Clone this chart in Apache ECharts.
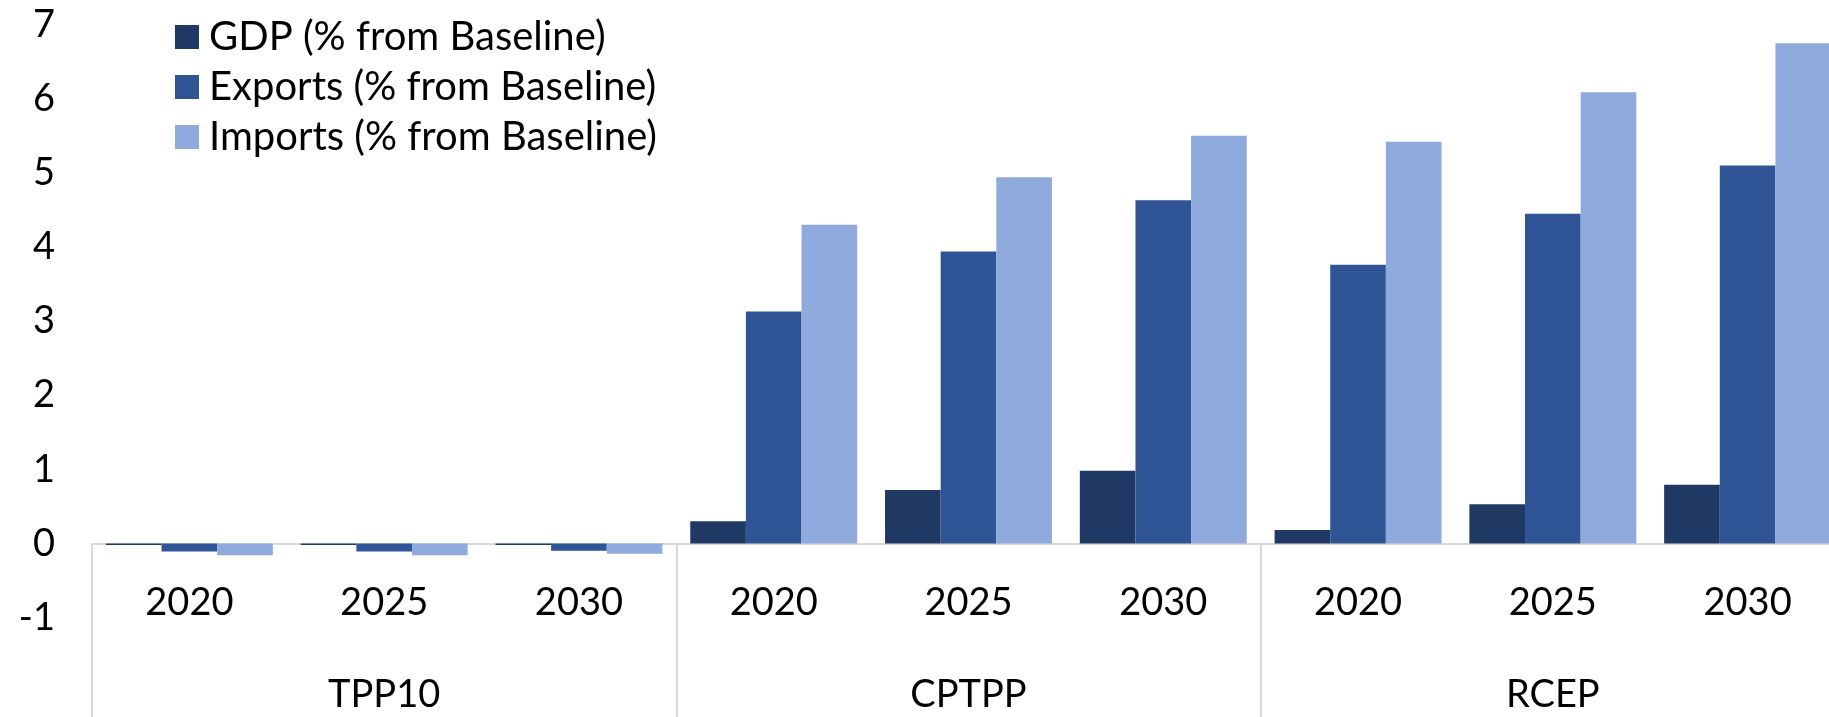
<!DOCTYPE html>
<html>
<head>
<meta charset="utf-8">
<script src="https://cdn.jsdelivr.net/npm/echarts@6/dist/echarts.min.js"></script>
<style>
  html, body { margin: 0; padding: 0; background: #ffffff; }
  #chart { width: 1829px; height: 717px; }
</style>
</head>
<body>
<div id="chart"></div>
<script>
// Trade agreement scenarios, each simulated for three years
const groups = ['TPP10', 'CPTPP', 'RCEP'];
const years = ['2020', '2025', '2030'];

// Percent change from baseline, in order TPP10 (2020, 2025, 2030), CPTPP (...), RCEP (...)
const gdp     = [-0.02, -0.02, -0.02, 0.30, 0.72, 0.98, 0.18, 0.53, 0.79];
const exports = [-0.11, -0.11, -0.10, 3.13, 3.94, 4.63, 3.76, 4.45, 5.10];
const imports = [-0.16, -0.16, -0.14, 4.30, 4.94, 5.50, 5.42, 6.09, 6.75];

const seriesNames = ['GDP (% from Baseline)', 'Exports (% from Baseline)', 'Imports (% from Baseline)'];
const colors = ['#203864', '#2F5597', '#8FAADC'];

// One category per (group, year) pair
const yearCategories = [];
groups.forEach(g => years.forEach(y => yearCategories.push(y)));

const FONT = 'Lato';
const FS = 38;

// Value range of the y axis; the category axes sit on the zero line
const Y_MIN = -1, Y_MAX = 7;
const GRID_TOP = 24.7, GRID_BOTTOM = 99.5, H = 717;
const plotH = H - GRID_TOP - GRID_BOTTOM;
const zeroShift = -plotH * (0 - Y_MIN) / (Y_MAX - Y_MIN);

const chart = echarts.init(document.getElementById('chart'), null, { renderer: 'canvas' });

chart.setOption({
  animation: false,
  color: colors,
  textStyle: { fontFamily: FONT },
  legend: {
    orient: 'vertical',
    left: 170,
    top: 12,
    itemWidth: 24,
    itemHeight: 24,
    itemGap: 10,
    icon: 'rect',
    textStyle: { fontFamily: FONT, fontSize: 40, color: '#000', padding: [0, 0, 0, 5] },
    data: seriesNames
  },
  grid: {
    left: 92, right: -16, top: GRID_TOP, bottom: GRID_BOTTOM,
    containLabel: false,
    outerBoundsMode: 'none'
  },
  xAxis: [
    {
      type: 'category',
      data: yearCategories,
      position: 'bottom',
      offset: zeroShift,
      axisLine: { show: true, onZero: false, lineStyle: { color: '#d9d9d9', width: 2 } },
      axisTick: { show: false },
      axisLabel: { fontFamily: FONT, fontSize: FS, color: '#000', margin: 40, interval: 0 },
      splitLine: { show: false }
    },
    {
      type: 'category',
      data: groups,
      position: 'bottom',
      offset: zeroShift,
      axisLine: { show: false, onZero: false },
      axisTick: { show: true, length: 180, lineStyle: { color: '#d9d9d9', width: 2 } },
      axisLabel: { fontFamily: FONT, fontSize: FS, color: '#000', margin: 132, interval: 0 },
      splitLine: { show: false }
    }
  ],
  yAxis: {
    type: 'value',
    min: Y_MIN,
    max: Y_MAX,
    interval: 1,
    axisLine: { show: false },
    axisTick: { show: false },
    splitLine: { show: false },
    axisLabel: { fontFamily: FONT, fontSize: FS, color: '#000', margin: 37 }
  },
  series: [
    { name: seriesNames[0], type: 'bar', data: gdp, xAxisIndex: 0, barGap: '0%', barCategoryGap: '14.3%' },
    { name: seriesNames[1], type: 'bar', data: exports, xAxisIndex: 0, barGap: '0%', barCategoryGap: '14.3%' },
    { name: seriesNames[2], type: 'bar', data: imports, xAxisIndex: 0, barGap: '0%', barCategoryGap: '14.3%' }
  ]
});
</script>
</body>
</html>
